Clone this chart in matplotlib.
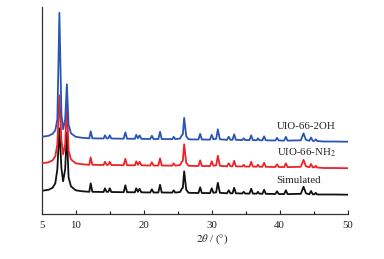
import matplotlib
matplotlib.use("Agg")
import matplotlib.pyplot as plt
from matplotlib.ticker import FixedLocator

plt.rcParams['font.family'] = ['Liberation Serif', 'DejaVu Serif']
plt.rcParams['mathtext.fontset'] = 'stix'

# 2theta sample positions (degrees)
two_theta = [5.0, 6.0, 6.6, 7.0, 7.3, 7.6, 7.9, 8.15, 8.45, 8.7, 8.95, 9.3, 10.0, 11.0,
             12.0, 12.2, 12.45,
             14.1, 14.3, 14.55, 14.8, 15.0, 15.25,
             17.05, 17.3, 17.55,
             18.7, 18.9, 19.15, 19.4, 19.65,
             20.95, 21.2, 21.45,
             22.15, 22.4, 22.65,
             24.2, 24.4, 24.65,
             25.35, 25.6, 25.75, 25.95, 26.25, 26.6,
             28.05, 28.3, 28.55,
             29.75, 30.0, 30.25, 30.65, 30.9, 31.2,
             32.25, 32.5, 32.75, 33.05, 33.3, 33.55,
             34.5, 34.7, 34.9,
             35.55, 35.8, 36.05,
             36.6, 36.8, 37.0, 37.45, 37.7, 37.95,
             39.35, 39.6, 39.85,
             40.65, 40.9, 41.15,
             43.1, 43.5, 43.85, 44.35, 44.6, 44.85, 45.1, 45.3, 45.5,
             46.5, 48.0, 50.0]

uio_2oh = [77.5, 78.5, 80.5, 84, 95, 201.5, 100, 85, 95, 130, 90, 81, 77.5, 76.5,
           76, 83, 76,
           75.8, 79, 76, 76, 79, 75.8,
           75.6, 82, 75.6,
           75.5, 79.5, 76, 79, 75.5,
           75.3, 78.5, 75.3,
           75.3, 82.5, 75.3,
           75.2, 77.5, 75.2,
           75.8, 79, 80, 96.5, 78, 75,
           74.8, 80.5, 74.8,
           74.7, 79.5, 75, 75.5, 85, 75,
           74.5, 77.5, 74.5, 74.5, 80, 74.5,
           74.3, 76, 74.3,
           74.2, 79, 74.2,
           74.1, 76, 74.1, 74, 78, 74,
           73.8, 76.5, 73.8,
           73.7, 77.5, 73.7,
           74, 81, 74.5, 73.5, 76.8, 73.5, 73.5, 75, 73.3,
           72.8, 72.8, 72.6]

uio_nh2 = [51, 52, 54, 58, 70, 119, 74, 60, 70, 112, 64, 55, 51, 50,
           49.5, 57, 49.5,
           49.3, 52.5, 49.5, 49.5, 52.5, 49.3,
           49.1, 55.5, 49.1,
           49, 53, 49.5, 52.5, 49,
           48.8, 52, 48.8,
           48.8, 56, 48.8,
           48.7, 51, 48.7,
           49.3, 52.5, 53.5, 70, 51.5, 48.5,
           48.3, 54, 48.3,
           48.2, 53, 48.5, 49, 58.5, 48.5,
           48, 51, 48, 48, 53.5, 48,
           47.8, 49.5, 47.8,
           47.7, 52.5, 47.7,
           47.6, 49.5, 47.6, 47.5, 51.5, 47.5,
           47.3, 50, 47.3,
           47.2, 51, 47.2,
           47.5, 54.5, 48, 47, 50.3, 47, 47, 48.5, 46.8,
           46.3, 46.3, 46.1]

simulated = [23.5, 24.5, 26.5, 31, 45, 86, 46, 33, 45, 82, 37, 28, 24, 23,
             22.5, 31, 22.5,
             22.3, 26, 22.5, 22.5, 26, 22.3,
             22.1, 29, 22.1,
             22, 26, 22.5, 25.5, 22,
             21.8, 25, 21.8,
             21.8, 29.5, 21.8,
             21.7, 24, 21.7,
             22.3, 25.5, 26.5, 43, 24.5, 21.5,
             21.3, 27, 21.3,
             21.2, 26, 21.5, 22, 31.5, 21.5,
             21, 24, 21, 21, 26.5, 21,
             20.8, 22.5, 20.8,
             20.7, 25.5, 20.7,
             20.6, 22.5, 20.6, 20.5, 24.5, 20.5,
             20.3, 23, 20.3,
             20.2, 24, 20.2,
             20.5, 27.5, 21, 20, 23.3, 20, 20, 21.5, 19.8,
             19.8, 19.8, 19.6]

series_labels = ['UIO-66-2OH', 'UIO-66-NH$_2$', 'Simulated']
x_tick_values = [5, 10, 20, 30, 40, 50]
x_minor_values = [15, 25, 35, 45]

fig = plt.figure(figsize=(3.84, 2.59), dpi=100)
ax = fig.add_axes([0.1086, 0.1726, 0.797, 0.799])

ax.plot(two_theta, simulated, color='#111111', lw=1.3, zorder=2)
ax.plot(two_theta, uio_nh2, color='#ee2227', lw=1.3, zorder=3)
ax.plot(two_theta, uio_2oh, color='#2a55b5', lw=1.3, zorder=4)

ax.text(39.56, 88.3, series_labels[0], fontsize=7.8, ha='left', va='center', color='#222222')
ax.text(39.56, 61.3, series_labels[1], fontsize=7.8, ha='left', va='center', color='#222222')
ax.text(39.56, 34.3, series_labels[2], fontsize=7.8, ha='left', va='center', color='#222222')

ax.set_xlim(5, 50)
ax.set_ylim(0, 207)
ax.xaxis.set_major_locator(FixedLocator(x_tick_values))
ax.xaxis.set_minor_locator(FixedLocator(x_minor_values))
ax.set_yticks([])
ax.tick_params(axis='x', which='major', direction='in', length=3, width=0.8,
               labelsize=7.8, pad=4.5, colors='#222222')
ax.tick_params(axis='x', which='minor', direction='in', length=2.2, width=0.8)
for s in ['top', 'right']:
    ax.spines[s].set_visible(False)
for s in ['left', 'bottom']:
    ax.spines[s].set_linewidth(0.9)
    ax.spines[s].set_color('#333333')

fig.text(0.552, 0.0753, r'$2\theta$ / (°)', fontsize=7.8, ha='center', va='center', color='#222222')

fig.savefig('out.png', dpi=100)
